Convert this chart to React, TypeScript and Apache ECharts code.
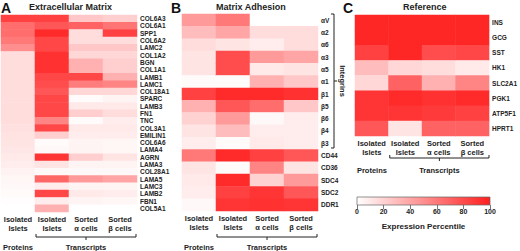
import React, { useEffect, useRef } from 'react';
import * as echarts from 'echarts';

const columns = ['Isolated\nIslets', 'Isolated\nIslets', 'Sorted\nα cells', 'Sorted\nβ cells'];

// Panel A – Extracellular Matrix
const ecmGenes = ['COL6A3', 'COL6A1', 'SPP1', 'COL6A2', 'LAMC2', 'COL1A2', 'BGN', 'COL1A1', 'LAMB1', 'LAMC1', 'COL18A1', 'SPARC', 'LAMB3', 'FN1', 'TNC', 'COL3A1', 'EMILIN1', 'COL6A6', 'LAMA4', 'AGRN', 'LAMA3', 'COL28A1', 'LAMA5', 'LAMC3', 'LAMB2', 'FBN1', 'COL5A1'];
const ecmProteins = [85, 65, 65, 60, 50, 15, 15, 15, 15, 15, 15, 15, 15, 15, 15, 14, 13, 12, 11, 10, 8, 6, 4, 3, 2, 1, 0];
const ecmIslets = [85, 75, 95, 82, 82, 92, 92, 92, 82, 80, 75, 82, 82, 82, 55, 82, 22, 2, 3, 90, 12, 3, 68, 8, 82, 8, 35];
const ecmAlpha = [25, 70, 15, 15, 25, 18, 35, 35, 82, 58, 18, 2, 10, 22, 2, 10, 8, 5, 5, 22, 5, 3, 45, 5, 10, 5, 0];
const ecmBeta = [22, 62, 85, 15, 25, 18, 22, 22, 35, 55, 18, 5, 10, 15, 8, 10, 8, 4, 4, 12, 5, 3, 40, 5, 8, 4, 0];

// Panel B – Matrix Adhesion
const adhGenes = ['αV', 'α2', 'α6', 'α3', 'α5', 'α1', 'β1', 'β5', 'β6', 'β4', 'β3', 'CD44', 'CD36', 'SDC4', 'SDC2', 'DDR1'];
const adhProteins = [45, 30, 15, 12, 12, 2, 85, 35, 20, 12, 8, 60, 12, 10, 8, 3];
const adhIslets = [60, 40, 12, 80, 80, 2, 95, 75, 45, 30, 2, 95, 2, 95, 85, 90];
const adhAlpha = [0, 15, 8, 45, 10, 35, 95, 65, 3, 8, 10, 85, 55, 20, 90, 92];
const adhBeta = [0, 15, 15, 40, 12, 25, 92, 25, 8, 8, 8, 75, 12, 45, 75, 90];

// Panel C – Reference
const refGenes = ['INS', 'GCG', 'SST', 'HK1', 'SLC2A1', 'PGK1', 'ATP5F1', 'HPRT1'];
const refProteins = [97, 97, 85, 30, 18, 90, 90, 75];
const refIslets = [97, 97, 97, 18, 70, 95, 90, 12];
const refAlpha = [97, 97, 80, 15, 35, 92, 88, 70];
const refBeta = [97, 97, 82, 10, 55, 95, 85, 70];

const colorTicks = [0, 20, 40, 60, 80, 100];

const FONT = 'Liberation Sans, Arial, Helvetica, sans-serif';
const TXT = '#222';

function cells(cols: number[][]) {
  const out: number[][] = [];
  cols.forEach((arr, c) => arr.forEach((v, r) => out.push([c, r, v])));
  return out;
}

const panels = [
  { genes: ecmGenes, cols: [ecmProteins, ecmIslets, ecmAlpha, ecmBeta], left: 1, top: 15, width: 136, height: 197 },
  { genes: adhGenes, cols: [adhProteins, adhIslets, adhAlpha, adhBeta], left: 182, top: 14, width: 136, height: 197 },
  { genes: refGenes, cols: [refProteins, refIslets, refAlpha, refBeta], left: 355, top: 15, width: 135, height: 121 },
];

function bracket(x1: number, x2: number, y: number) {
  const mid = (x1 + x2) / 2;
  return [
    { type: 'polyline', shape: { points: [[x1, y - 3], [x1, y], [x2, y], [x2, y - 3]] }, style: { stroke: TXT, lineWidth: 1, fill: null } },
    { type: 'line', shape: { x1: mid, y1: y, x2: mid, y2: y + 3 }, style: { stroke: TXT, lineWidth: 1 } },
  ];
}

function groupLabels(p: { left: number; width: number }, yBr: number, yTxt: number) {
  const cw = p.width / 4;
  const x1 = p.left + cw + 1;
  const x2 = p.left + p.width - 1;
  return [
    ...bracket(x1, x2, yBr),
    { type: 'text', x: p.left + cw / 2, y: yTxt, style: { text: 'Proteins', font: `bold 7.5px ${FONT}`, fill: TXT, textAlign: 'center', textVerticalAlign: 'middle' } },
    { type: 'text', x: (x1 + x2) / 2, y: yTxt, style: { text: 'Transcripts', font: `bold 7.5px ${FONT}`, fill: TXT, textAlign: 'center', textVerticalAlign: 'middle' } },
  ];
}

export default function App() {
  const ref = useRef<HTMLDivElement>(null);
  useEffect(() => {
    if (!ref.current) return;
    const chart = echarts.init(ref.current, undefined, { renderer: 'svg' });
    const grids: any[] = panels.map((p) => ({ left: p.left, top: p.top, width: p.width, height: p.height }));
    grids.push({ left: 357, top: 197, width: 133, height: 8 });
    const xAxis: any[] = panels.map((_, i) => ({
      type: 'category', gridIndex: i, data: columns, position: 'bottom',
      axisLine: { show: false }, axisTick: { show: false }, splitLine: { show: false },
      axisLabel: { interval: 0, fontSize: 7.5, fontWeight: 'bold', color: TXT, lineHeight: 9, margin: 3, fontFamily: FONT },
    }));
    xAxis.push({
      type: 'value', gridIndex: 3, min: 0, max: 100, interval: 20, position: 'bottom',
      axisLine: { show: false }, axisTick: { show: true, length: 4, lineStyle: { color: '#555', width: 0.8 } },
      splitLine: { show: false },
      axisLabel: { fontSize: 7, fontWeight: 'bold', color: TXT, margin: 3, fontFamily: FONT, formatter: (v: number) => (colorTicks.includes(v) ? String(v) : '') },
      name: 'Expression Percentile', nameLocation: 'middle', nameGap: 17,
      nameTextStyle: { fontSize: 8, fontWeight: 'bold', color: TXT, fontFamily: FONT },
    });
    const yAxis: any[] = panels.map((p, i) => ({
      type: 'category', gridIndex: i, data: p.genes, inverse: true, position: 'right',
      axisLine: { show: false }, axisTick: { show: false }, splitLine: { show: false },
      axisLabel: { interval: 0, fontSize: 6.5, fontWeight: 'bold', color: TXT, margin: 3, fontFamily: FONT },
    }));
    yAxis.push({ type: 'value', gridIndex: 3, min: 0, max: 1, show: false });

    const series: any[] = panels.map((p, i) => ({
      type: 'heatmap', xAxisIndex: i, yAxisIndex: i, data: cells(p.cols),
      itemStyle: { borderWidth: 0 }, emphasis: { disabled: true },
    }));

    const graphic: any[] = [
      { type: 'text', x: 1, y: 7.5, style: { text: 'A', font: `bold 14px ${FONT}`, fill: '#111', textVerticalAlign: 'middle' } },
      { type: 'text', x: 29, y: 7, style: { text: 'Extracellular Matrix', font: `bold 9px ${FONT}`, fill: TXT, textVerticalAlign: 'middle' } },
      { type: 'text', x: 171, y: 7.5, style: { text: 'B', font: `bold 14px ${FONT}`, fill: '#111', textVerticalAlign: 'middle' } },
      { type: 'text', x: 216, y: 7, style: { text: 'Matrix Adhesion', font: `bold 9px ${FONT}`, fill: TXT, textVerticalAlign: 'middle' } },
      { type: 'text', x: 343, y: 7.5, style: { text: 'C', font: `bold 14px ${FONT}`, fill: '#111', textVerticalAlign: 'middle' } },
      { type: 'text', x: 403, y: 7, style: { text: 'Reference', font: `bold 9px ${FONT}`, fill: TXT, textVerticalAlign: 'middle' } },
      ...groupLabels(panels[0], 237, 247),
      ...groupLabels(panels[1], 237, 247),
      ...groupLabels(panels[2], 158, 170),
      // Integrins bracket
      { type: 'polyline', shape: { points: [[331, 14], [334, 14], [334, 148], [331, 148]] }, style: { stroke: TXT, lineWidth: 1, fill: null } },
      { type: 'line', shape: { x1: 334, y1: 81, x2: 337, y2: 81 }, style: { stroke: TXT, lineWidth: 1 } },
      { type: 'text', x: 342, y: 81, rotation: -Math.PI / 2, style: { text: 'Integrins', font: `bold 7.5px ${FONT}`, fill: TXT, textAlign: 'center', textVerticalAlign: 'middle' } },
      // colour bar
      {
        type: 'rect', shape: { x: 357, y: 197, width: 133, height: 8 },
        style: {
          fill: new echarts.graphic.LinearGradient(0, 0, 1, 0, [{ offset: 0, color: '#ffffff' }, { offset: 1, color: '#ff1f1f' }]),
          stroke: '#666', lineWidth: 0.7,
        },
      },
    ];

    chart.setOption({
      animation: false,
      textStyle: { fontFamily: FONT },
      grid: grids,
      xAxis,
      yAxis,
      visualMap: { type: 'continuous', show: false, min: 0, max: 100, seriesIndex: [0, 1, 2], inRange: { color: ['#ffffff', '#ff1f1f'] } },
      series,
      graphic,
    });
    return () => chart.dispose();
  }, []);
  return <div ref={ref} style={{ position: 'fixed', left: 0, top: 0, width: 520, height: 251, background: '#fff' }} />;
}
